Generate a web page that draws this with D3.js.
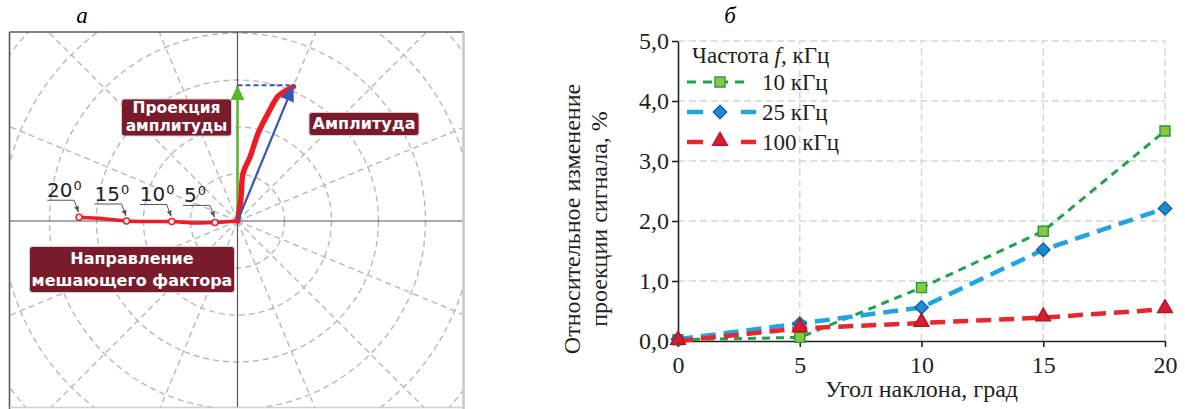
<!DOCTYPE html>
<html>
<head>
<meta charset="utf-8">
<script src="https://cdn.jsdelivr.net/npm/d3@7"></script>
<style>
  body { margin: 0; background: #fff; }
  svg { display: block; }
</style>
</head>
<body>
<div id="chart"></div>
<script>
// ---- panel a: polar diagram (units = one grid ring) ----
var projX = [0, 0], projY = [0, 2.89];          // projection of amplitude
var amplX = [0, 1.19], amplY = [0, 2.89];       // amplitude vector
var traceX = [0, 0.07, 0.12, 0.27, 0.44, 0.65, 0.87, 1.08, 1.19];
var traceY = [0, 0.45, 1.02, 1.37, 1.87, 2.29, 2.66, 2.80, 2.86];
var tiltLabels = ["5", "10", "15", "20"];
var tiltX = [-0.48, -1.40, -2.36, -3.37];
var tiltY = [-0.03, -0.01, 0.0, 0.08];
var pathX = [0, -0.48, -0.92, -1.40, -1.88, -2.36, -2.85, -3.37];
var pathY = [0, -0.03, -0.04, -0.01, -0.01, 0.0, 0.05, 0.08];

// ---- panel b: line chart ----
var angles = [0, 5, 10, 15, 20];
var f10 = [0.02, 0.06, 0.89, 1.83, 3.50];
var f25 = [0.03, 0.29, 0.56, 1.52, 2.21];
var f100 = [0.00, 0.21, 0.30, 0.39, 0.53];
var seriesNames = ["10 кГц", "25 кГц", "100 кГц"];
var yTicks = [0, 1, 2, 3, 4, 5];
var xTicks = [0, 5, 10, 15, 20];

var svg = d3.select("#chart")
  .append("svg")
  .attr("width", 1185)
  .attr("height", 409);

var defs = svg.append("defs");

// ================= panel a =================
var cx = 237.5, cy = 221, unit = 47;
var frame = { left: 9.5, top: 32, right: 463.5, bottom: 407.5 };

var px = d3.scaleLinear().domain([0, 1]).range([cx, cx + unit]);
var py = d3.scaleLinear().domain([0, 1]).range([cy, cy - unit]);

defs.append("clipPath").attr("id", "frameClip")
  .append("rect")
  .attr("x", frame.left).attr("y", frame.top)
  .attr("width", frame.right - frame.left)
  .attr("height", frame.bottom - frame.top);

function arrowHead(id, color, len, wid) {
  defs.append("marker")
    .attr("id", id)
    .attr("markerUnits", "userSpaceOnUse")
    .attr("viewBox", "0 0 " + len + " " + wid)
    .attr("refX", len).attr("refY", wid / 2)
    .attr("markerWidth", len).attr("markerHeight", wid)
    .attr("orient", "auto")
    .append("path")
    .attr("d", "M0,0 L" + len + "," + (wid / 2) + " L0," + wid + " Z")
    .attr("fill", color);
}
arrowHead("headGreen", "#5cb531", 15, 14);
arrowHead("headBlue", "#3656b8", 16, 14);
arrowHead("headGray", "#555", 6, 5);

var polar = svg.append("g");
var grid = polar.append("g").attr("clip-path", "url(#frameClip)");

// rings
grid.selectAll("circle")
  .data(d3.range(1, 7))
  .enter()
  .append("circle")
  .attr("cx", px(0)).attr("cy", py(0))
  .attr("r", function(d) { return px(d) - px(0); })
  .attr("fill", "none")
  .attr("stroke", "#b9b9b9")
  .attr("stroke-width", 1.4)
  .attr("stroke-dasharray", "6,4");

// spokes every 22.5 deg
grid.selectAll(".spoke")
  .data(d3.range(0, 360, 22.5).filter(function(a) { return a % 90 !== 0; }))
  .enter()
  .append("line")
  .attr("class", "spoke")
  .attr("x1", px(0)).attr("y1", py(0))
  .attr("x2", function(a) { return px(7 * Math.cos(a * Math.PI / 180)); })
  .attr("y2", function(a) { return py(7 * Math.sin(a * Math.PI / 180)); })
  .attr("stroke", "#b9b9b9")
  .attr("stroke-width", 1.4)
  .attr("stroke-dasharray", "6,4");

// axes through the centre
grid.append("line")
  .attr("x1", frame.left).attr("x2", frame.right)
  .attr("y1", py(0)).attr("y2", py(0))
  .attr("stroke", "#555").attr("stroke-width", 1.2);
grid.append("line")
  .attr("x1", px(0)).attr("x2", px(0))
  .attr("y1", frame.top).attr("y2", frame.bottom)
  .attr("stroke", "#555").attr("stroke-width", 1.2);

// frame
polar.append("line")
  .attr("x1", frame.left).attr("x2", frame.right)
  .attr("y1", frame.top).attr("y2", frame.top)
  .attr("stroke", "#5a5a5a").attr("stroke-width", 1.6);
polar.append("line")
  .attr("x1", frame.left).attr("x2", frame.left)
  .attr("y1", frame.top).attr("y2", 409)
  .attr("stroke", "#5a5a5a").attr("stroke-width", 1.6);
polar.append("line")
  .attr("x1", frame.right).attr("x2", frame.right)
  .attr("y1", frame.top).attr("y2", 409)
  .attr("stroke", "#c9c9c9").attr("stroke-width", 2.5);
polar.append("line")
  .attr("x1", frame.left).attr("x2", frame.right)
  .attr("y1", frame.bottom).attr("y2", frame.bottom)
  .attr("stroke", "#cfcfcf").attr("stroke-width", 1.5);

// green projection arrow
polar.append("line")
  .attr("x1", px(projX[0])).attr("y1", py(projY[0]))
  .attr("x2", px(projX[1])).attr("y2", py(projY[1]))
  .attr("stroke", "#5cb531").attr("stroke-width", 2.5)
  .attr("marker-end", "url(#headGreen)");

// dashed link from projection to amplitude tip
polar.append("line")
  .attr("x1", px(projX[1])).attr("y1", py(projY[1]))
  .attr("x2", px(amplX[1]) - 4).attr("y2", py(amplY[1]))
  .attr("stroke", "#3656b8").attr("stroke-width", 2)
  .attr("stroke-dasharray", "5,3");

// red trace
var lineA = d3.line()
  .x(function(d) { return px(d[0]); })
  .y(function(d) { return py(d[1]); })
  .curve(d3.curveCatmullRom);

polar.append("path")
  .attr("d", lineA(d3.zip(traceX, traceY)))
  .attr("fill", "none")
  .attr("stroke", "#ee1b24")
  .attr("stroke-width", 5.5)
  .attr("stroke-linecap", "round");

// blue amplitude arrow
polar.append("line")
  .attr("x1", px(amplX[0])).attr("y1", py(amplY[0]))
  .attr("x2", px(amplX[1])).attr("y2", py(amplY[1]))
  .attr("stroke", "#3656b8").attr("stroke-width", 2.2)
  .attr("marker-end", "url(#headBlue)");

// interfering factor direction trace
polar.append("path")
  .attr("d", lineA(d3.zip(pathX, pathY)))
  .attr("fill", "none")
  .attr("stroke", "#ee1b24")
  .attr("stroke-width", 3.5)
  .attr("stroke-linecap", "round");

polar.selectAll(".tiltDot")
  .data(d3.range(tiltX.length))
  .enter()
  .append("circle")
  .attr("class", "tiltDot")
  .attr("cx", function(i) { return px(tiltX[i]); })
  .attr("cy", function(i) { return py(tiltY[i]); })
  .attr("r", 3)
  .attr("fill", "#fff")
  .attr("stroke", "#ee1b24")
  .attr("stroke-width", 1.5);

// leaders and degree labels
var lab = polar.selectAll(".tiltLab")
  .data(d3.range(tiltX.length))
  .enter()
  .append("g")
  .attr("class", "tiltLab");

lab.append("path")
  .attr("d", function(i) {
    var mx = px(tiltX[i]), my = py(tiltY[i]);
    return "M" + (mx - 32) + "," + (my - 17) + " H" + (mx - 5) + " L" + (mx - 0.5) + "," + (my - 5);
  })
  .attr("fill", "none")
  .attr("stroke", "#555")
  .attr("stroke-width", 1)
  .attr("marker-end", "url(#headGray)");

var labText = lab.append("text")
  .attr("x", function(i) { return px(tiltX[i]) - 32 + (tiltLabels[i].length === 1 ? 1 : 0); })
  .attr("y", function(i) { return py(tiltY[i]) - 20; })
  .attr("font-family", "DejaVu Sans, sans-serif")
  .attr("font-size", 20)
  .attr("fill", "#222");
labText.append("tspan").text(function(i) { return tiltLabels[i]; });
labText.append("tspan")
  .attr("dy", -7)
  .attr("dx", 1)
  .attr("font-size", 13)
  .text("0");

// maroon caption boxes
function caption(x, y, w, h, lines, baselines, size) {
  var g = polar.append("g");
  g.append("rect")
    .attr("x", x).attr("y", y)
    .attr("width", w).attr("height", h)
    .attr("rx", 3)
    .attr("fill", "#7a1b2c")
    .attr("stroke", "#d8cdd0")
    .attr("stroke-width", 1);
  g.selectAll("text")
    .data(lines)
    .enter()
    .append("text")
    .attr("x", x + w / 2)
    .attr("y", function(d, i) { return baselines[i]; })
    .attr("text-anchor", "middle")
    .attr("font-family", "DejaVu Sans, sans-serif")
    .attr("font-weight", "bold")
    .attr("font-size", size)
    .attr("fill", "#fff")
    .text(function(d) { return d; });
}
caption(121.5, 99, 110, 37, ["Проекция", "амплитуды"], [113, 131], 15.5);
caption(309, 112.5, 110, 23, ["Амплитуда"], [129], 16);
caption(29.5, 246.5, 205, 46, ["Направление", "мешающего фактора"], [264, 286], 16);

svg.append("text")
  .attr("x", 82).attr("y", 23)
  .attr("text-anchor", "middle")
  .attr("font-family", "Liberation Serif, serif")
  .attr("font-style", "italic")
  .attr("font-size", 23)
  .text("а");

// ================= panel b =================
var x = d3.scaleLinear().domain([0, 20]).range([678, 1165]);
var y = d3.scaleLinear().domain([0, 5]).range([341, 41]);
var serif = "Liberation Serif, Times New Roman, serif";

var chart = svg.append("g");

// grid
chart.selectAll(".hgrid")
  .data(yTicks.slice(1))
  .enter()
  .append("line")
  .attr("x1", x(0)).attr("x2", x(20))
  .attr("y1", function(d) { return y(d); })
  .attr("y2", function(d) { return y(d); })
  .attr("stroke", "#d6d6d6").attr("stroke-width", 1.5)
  .attr("stroke-dasharray", "7,4");
chart.selectAll(".vgrid")
  .data(xTicks.slice(1))
  .enter()
  .append("line")
  .attr("y1", y(0)).attr("y2", y(5))
  .attr("x1", function(d) { return x(d); })
  .attr("x2", function(d) { return x(d); })
  .attr("stroke", "#d6d6d6").attr("stroke-width", 1.5)
  .attr("stroke-dasharray", "7,4");

// axes
var commaFmt = function(d) { return d3.format(".1f")(d).replace(".", ","); };
var yAxis = chart.append("g")
  .attr("transform", "translate(" + x(0) + ",0)")
  .call(d3.axisLeft(y).tickValues(yTicks).tickFormat(commaFmt).tickSize(6).tickSizeOuter(0).tickPadding(3));
var xAxis = chart.append("g")
  .attr("transform", "translate(0," + y(0) + ")")
  .call(d3.axisBottom(x).tickValues(xTicks).tickFormat(d3.format("d")).tickSize(6).tickSizeOuter(0).tickPadding(9));
[yAxis, xAxis].forEach(function(ax) {
  ax.select(".domain").attr("stroke", "#222").attr("stroke-width", 1.6);
  ax.selectAll(".tick line").attr("stroke", "#222").attr("stroke-width", 1.6);
  ax.selectAll("text")
    .attr("font-family", serif)
    .attr("font-size", 24)
    .attr("fill", "#231f20");
});

// series (diamond = square turned 45 deg)
var series = [
  { name: seriesNames[0], values: f10, color: "#1ea34a", width: 3, dash: "8,6",
    fill: "#8cc63f", stroke: "#1e9e3e", shape: d3.symbolSquare, size: 100, rot: 0 },
  { name: seriesNames[1], values: f25, color: "#21a5e2", width: 4.5, dash: "15,8",
    fill: "#1b8bd4", stroke: "#1b5ea8", shape: d3.symbolSquare, size: 90, rot: 45 },
  { name: seriesNames[2], values: f100, color: "#e8262c", width: 4.5, dash: "15,8",
    fill: "#d81e2c", stroke: "#b41622", shape: d3.symbolTriangle, size: 95, rot: 0 }
];

var lineB = d3.line()
  .x(function(d) { return x(d[0]); })
  .y(function(d) { return y(d[1]); });

series.forEach(function(s) {
  var pts = d3.zip(angles, s.values);
  chart.append("path")
    .attr("d", lineB(pts))
    .attr("fill", "none")
    .attr("stroke", s.color)
    .attr("stroke-width", s.width)
    .attr("stroke-dasharray", s.dash);
  chart.selectAll(null)
    .data(pts)
    .enter()
    .append("path")
    .attr("d", d3.symbol().type(s.shape).size(s.size))
    .attr("transform", function(d) {
      return "translate(" + x(d[0]) + "," + (y(d[1]) - (s.shape === d3.symbolTriangle ? 1 : 0)) + ") rotate(" + s.rot + ")";
    })
    .attr("fill", s.fill)
    .attr("stroke", s.stroke)
    .attr("stroke-width", 1.4);
});

// legend
var legend = chart.append("g");
var legTitle = legend.append("text")
  .attr("x", 692).attr("y", 63)
  .attr("font-family", serif)
  .attr("font-size", 23)
  .attr("fill", "#231f20");
legTitle.append("tspan").text("Частота ");
legTitle.append("tspan").attr("font-style", "italic").text("f");
legTitle.append("tspan").text(", кГц");

series.forEach(function(s, i) {
  var ly = 82 + i * 30;
  if (i === 0) {
    legend.append("line")
      .attr("x1", 687).attr("x2", 744)
      .attr("y1", ly).attr("y2", ly)
      .attr("stroke", s.color)
      .attr("stroke-width", s.width)
      .attr("stroke-dasharray", "9,7");
  } else {
    [[687, 703], [741, 756]].forEach(function(seg) {
      legend.append("line")
        .attr("x1", seg[0]).attr("x2", seg[1])
        .attr("y1", ly).attr("y2", ly)
        .attr("stroke", s.color)
        .attr("stroke-width", s.width);
    });
  }
  legend.append("path")
    .attr("d", d3.symbol().type(s.shape).size(s.size))
    .attr("transform", "translate(720," + (ly - (i === 2 ? 1 : 0)) + ") rotate(" + s.rot + ")")
    .attr("fill", s.fill)
    .attr("stroke", s.stroke)
    .attr("stroke-width", 1.4);
  legend.append("text")
    .attr("x", 762).attr("y", ly + 8)
    .attr("font-family", serif)
    .attr("font-size", 23)
    .attr("fill", "#231f20")
    .text(s.name);
});

// axis titles
chart.append("text")
  .attr("x", x(10)).attr("y", 397)
  .attr("text-anchor", "middle")
  .attr("font-family", serif)
  .attr("font-size", 24)
  .attr("fill", "#231f20")
  .text("Угол наклона, град");

var yTitle = chart.append("g")
  .attr("transform", "translate(580,219) rotate(-90)");
yTitle.append("text")
  .attr("text-anchor", "middle")
  .attr("font-family", serif)
  .attr("font-size", 24)
  .attr("fill", "#231f20")
  .text("Относительное изменение");
yTitle.append("text")
  .attr("y", 27)
  .attr("text-anchor", "middle")
  .attr("font-family", serif)
  .attr("font-size", 24)
  .attr("fill", "#231f20")
  .text("проекции сигнала, %");

svg.append("text")
  .attr("x", 730).attr("y", 23)
  .attr("text-anchor", "middle")
  .attr("font-family", serif)
  .attr("font-style", "italic")
  .attr("font-size", 23)
  .text("б");
</script>
</body>
</html>
